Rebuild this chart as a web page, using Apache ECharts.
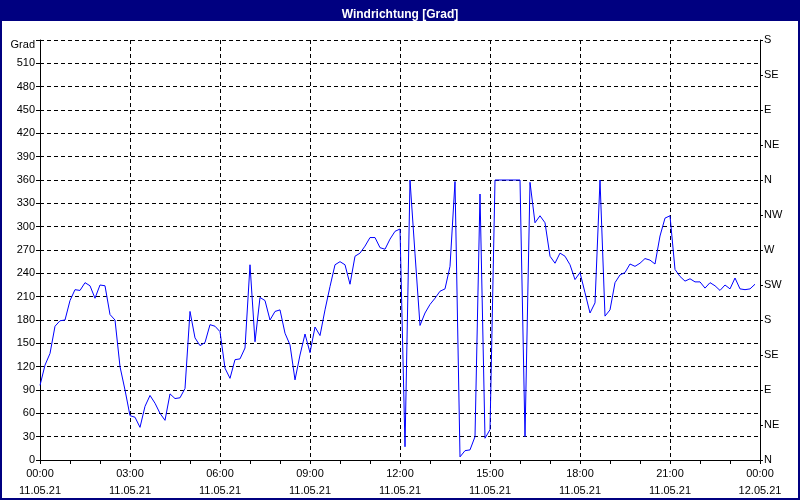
<!DOCTYPE html>
<html>
<head>
<meta charset="utf-8">
<script src="https://cdn.jsdelivr.net/npm/echarts@6/dist/echarts.min.js"></script>
<style>
  html, body { margin: 0; padding: 0; background: #fff; }
  #chart { width: 800px; height: 500px; }
</style>
</head>
<body>
<div id="chart"></div>
<script>
// Windrichtung in Grad, alle 10 Minuten ab 00:00 (11.05.21)
const richtung = [
  96, 122, 137, 172, 179, 180,
  205, 219, 218, 228, 224, 208,
  225, 224, 187, 180, 120, 90,
  57, 55, 42, 69, 83, 73,
  60, 51, 85, 79, 80, 92,
  191, 157, 147, 151, 174, 172,
  165, 118, 105, 129, 130, 144,
  251, 152, 209, 205, 180, 191,
  193, 163, 148, 103, 135, 162,
  138, 171, 160, 193, 223, 251,
  255, 251, 226, 262, 266, 275,
  286, 286, 273, 271, 284, 294,
  297, 17, 360, 265, 173, 189,
  200, 208, 217, 220, 249, 358,
  4, 12, 13, 30, 342, 28,
  39, 360, 360, 360, 360, 360,
  360, 30, 357, 305, 314, 305,
  262, 253, 266, 262, 251, 232,
  241, 215, 189, 202, 360, 185,
  193, 228, 238, 241, 252, 249,
  253, 259, 257, 252, 288, 311,
  314, 245, 236, 230, 233, 229,
  229, 221, 228, 224, 218, 225,
  220, 234, 220, 219, 220, 226
];

// Himmelsrichtungen rechte Achse (alle 45 Grad)
const himmelsrichtungen = ['N', 'NE', 'E', 'SE', 'S', 'SW', 'W', 'NW', 'N', 'NE', 'E', 'SE', 'S'];

// Zeitachse 00:00 (11.05.21) bis 00:00 (12.05.21), 10-Minuten-Schritte
const zeiten = [];
for (let i = 0; i <= 144; i++) {
  const min = i * 10;
  const hh = String(Math.floor(min / 60) % 24).padStart(2, '0');
  const mm = String(min % 60).padStart(2, '0');
  const tag = min >= 1440 ? '12.05.21' : '11.05.21';
  zeiten.push(hh + ':' + mm + '\n' + tag);
}

const schrift = 'Liberation Sans Narrow, Liberation Sans, Arial, sans-serif';
const gitter = { color: '#000', type: [4, 3], width: 1 };

const chart = echarts.init(document.getElementById('chart'));
chart.setOption({
  backgroundColor: '#fff',
  animation: false,
  textStyle: { fontFamily: schrift },
  title: {
    text: 'Windrichtung [Grad]',
    left: 'center',
    top: 4,
    z: 10,
    textStyle: { color: '#fff', fontSize: 12, fontWeight: 'bold', fontFamily: schrift }
  },
  graphic: [
    { type: 'rect', z: 0, shape: { x: 0, y: 0, width: 800, height: 21 }, style: { fill: '#000080' } },
    { type: 'rect', z: 0, shape: { x: 1, y: 1, width: 798, height: 498 }, style: { fill: 'none', stroke: '#000080', lineWidth: 2 } }
  ],
  grid: { left: 40, right: 40, top: 40, bottom: 40 },
  xAxis: [
    {
      type: 'category',
      boundaryGap: false,
      data: zeiten,
      axisLine: { show: true, lineStyle: { color: '#000', width: 1 } },
      axisTick: { show: true, length: 4, interval: (i) => i % 6 === 0, lineStyle: { color: '#000' } },
      axisLabel: {
        interval: (i) => i % 18 === 0,
        color: '#000',
        fontSize: 11,
        lineHeight: 17,
        margin: 5,
        showMinLabel: true,
        showMaxLabel: true
      },
      splitLine: { show: true, interval: (i) => i % 18 === 0 && i !== 0 && i !== 144, lineStyle: gitter }
    },
    {
      type: 'category',
      position: 'top',
      boundaryGap: false,
      data: zeiten,
      axisLine: { show: true, lineStyle: { color: '#000', width: 1 } },
      axisTick: { show: false },
      axisLabel: { show: false },
      splitLine: { show: false }
    }
  ],
  yAxis: [
    {
      type: 'value',
      min: 0,
      max: 540,
      interval: 30,
      axisLine: { show: true, lineStyle: { color: '#000', width: 1 } },
      axisTick: { show: true, length: 4, lineStyle: { color: '#000' } },
      axisLabel: {
        color: '#000',
        fontSize: 11,
        margin: 5,
        formatter: (v) => (v === 540 ? '{g|Grad}' : String(v)),
        rich: { g: { color: '#000', fontSize: 11, padding: [9, 0, 0, 0] } }
      },
      splitLine: { show: true, lineStyle: gitter }
    },
    {
      type: 'value',
      position: 'right',
      min: 0,
      max: 540,
      interval: 45,
      axisLine: { show: true, lineStyle: { color: '#000', width: 1 } },
      axisTick: { show: true, length: 3, lineStyle: { color: '#000' } },
      axisLabel: {
        color: '#000',
        fontSize: 11,
        margin: 4,
        formatter: (v) => himmelsrichtungen[Math.round(v / 45)]
      },
      splitLine: { show: false }
    }
  ],
  series: [
    {
      name: 'Windrichtung',
      type: 'line',
      data: richtung,
      symbol: 'none',
      lineStyle: { color: '#0000ff', width: 1 }
    }
  ]
});
</script>
</body>
</html>
